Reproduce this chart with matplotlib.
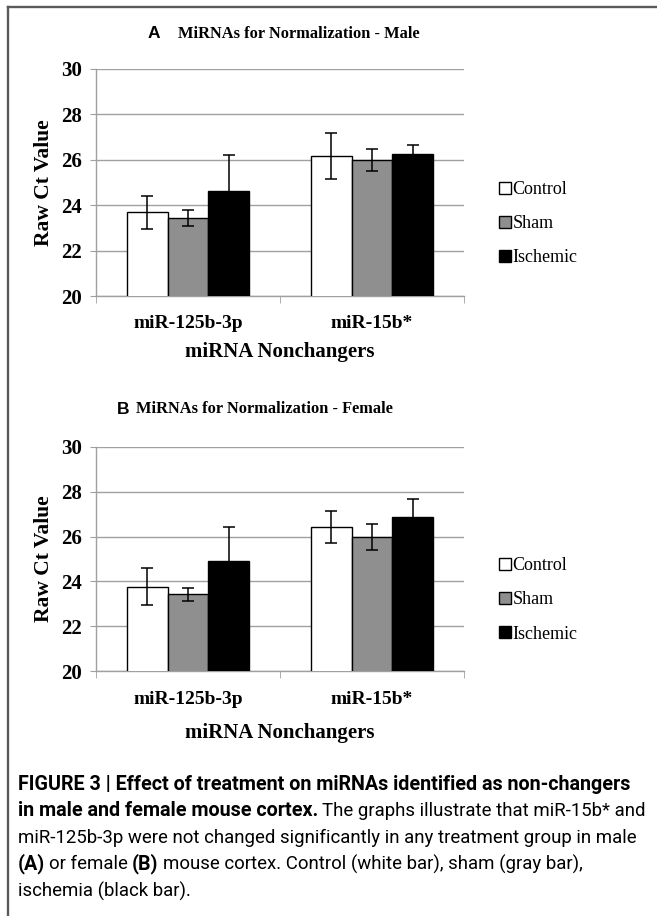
import numpy as np
import matplotlib.pyplot as plt
from matplotlib.lines import Line2D

W, H = 657, 916

groups = ['Control', 'Sham', 'Ischemic']
mirnas = ['miR-125b-3p', 'miR-15b*']
colors = ['white', '#8f8f8f', 'black']

# panel A (male): rows = group, cols = miRNA
male_mean = [[23.68, 26.17], [23.42, 25.99], [24.63, 26.24]]
male_err = [[0.72, 1.02], [0.35, 0.48], [1.60, 0.42]]
# panel B (female)
female_mean = [[23.77, 26.42], [23.43, 25.98], [24.91, 26.87]]
female_err = [[0.81, 0.71], [0.28, 0.59], [1.50, 0.82]]

yticks = [20, 22, 24, 26, 28, 30]

serif = 'Liberation Serif'
sans = 'Liberation Sans'

fig = plt.figure(figsize=(W / 100, H / 100), dpi=100)


def px(x, y):
    return x / W, 1 - y / H


def panel(y_bottom, y_top, means, errs, letter, title, y_title, x_letter, x_title, y_xlab):
    left, bottom = px(96, y_bottom)
    ax = fig.add_axes([left, bottom, 368 / W, (y_bottom - y_top) / H])
    x = np.arange(len(mirnas))
    bw = 0.222
    for i, g in enumerate(groups):
        ax.bar(x + (i - 1) * bw, means[i], bw, color=colors[i], edgecolor='black',
               linewidth=1.0, label=g, zorder=3)
        ax.errorbar(x + (i - 1) * bw, means[i], yerr=errs[i], fmt='none', ecolor='black',
                    elinewidth=1.1, capsize=4.5, capthick=1.1, zorder=4)
    ax.set_xlim(-0.5, 1.5)
    ax.set_ylim(20, 30)
    ax.set_yticks(yticks)
    ax.yaxis.grid(True, color='#a0a0a0', linewidth=1.0, zorder=0)
    ax.set_axisbelow(True)
    for s in ['top', 'right']:
        ax.spines[s].set_visible(False)
    for s in ['left', 'bottom']:
        ax.spines[s].set_color('#a0a0a0')
        ax.spines[s].set_linewidth(1.0)
    ax.tick_params(axis='y', length=4, color='#a0a0a0', pad=6, labelsize=15)
    for lab in ax.get_yticklabels():
        lab.set_fontfamily(serif)
        lab.set_fontweight('bold')
    ax.set_xticks(x)
    ax.set_xticklabels(mirnas, fontfamily=serif, fontweight='bold', fontsize=14)
    ax.set_xticks([-0.5, 0.5, 1.5], minor=True)
    ax.tick_params(axis='x', which='major', length=0, pad=14)
    ax.tick_params(axis='x', which='minor', length=5, color='#a0a0a0')
    ax.set_ylabel('Raw Ct Value', fontfamily=serif, fontweight='bold', fontsize=15.5, labelpad=5)
    ax.legend(loc='center left', bbox_to_anchor=(1.07, 0.318), frameon=False,
              prop={'family': serif, 'size': 13}, handlelength=0.65, handleheight=0.65,
              handletextpad=0.1, labelspacing=0.95, borderpad=0)
    fig.text(*px(x_letter, y_title), letter, family=sans, weight='bold', fontsize=12.5,
             ha='left', va='center')
    fig.text(*px(x_title, y_title), title, family=serif, weight='bold',
             fontsize=11.8, ha='left', va='center')
    fig.text(*px(280, y_xlab), 'miRNA Nonchangers', family=serif, weight='bold',
             fontsize=15, ha='center', va='center')
    return ax


panel(296, 69, male_mean, male_err, 'A', 'MiRNAs for Normalization - Male', 34, 148, 178, 352)
panel(671.3, 446.7, female_mean, female_err, 'B', 'MiRNAs for Normalization - Female', 409, 117, 136, 733)

# figure frame (top and left)
fig.add_artist(Line2D([8 / W, 1], [1 - 7 / H, 1 - 7 / H], color='#5a5a5a', linewidth=1.7))
fig.add_artist(Line2D([8 / W, 8 / W], [0, 1 - 7 / H], color='#5a5a5a', linewidth=1.7))

# caption
cap = 'Roboto'
bsz = 14.2
rsz = 13.4


def run(x, y, s, bold=False):
    t = fig.text(x / W, 1 - y / H, s, family=cap, weight='bold' if bold else 'normal',
                 fontsize=bsz if bold else rsz, va='center')
    fig.canvas.draw()
    return t.get_window_extent().x1


run(18, 784, 'FIGURE 3 | Effect of treatment on miRNAs identified as non-changers', True)
x1 = run(18, 811, 'in male and female mouse cortex.', True)
run(x1 + 4, 811, 'The graphs illustrate that miR-15b* and')
run(18, 838, 'miR-125b-3p were not changed significantly in any treatment group in male')
x1 = run(18, 864, '(A)', True)
x1 = run(x1 + 4, 864, 'or female')
x1 = run(x1 + 4, 864, '(B)', True)
run(x1 + 4, 864, 'mouse cortex. Control (white bar), sham (gray bar),')
run(18, 891, 'ischemia (black bar).')

fig.savefig('out.png', dpi=100)
